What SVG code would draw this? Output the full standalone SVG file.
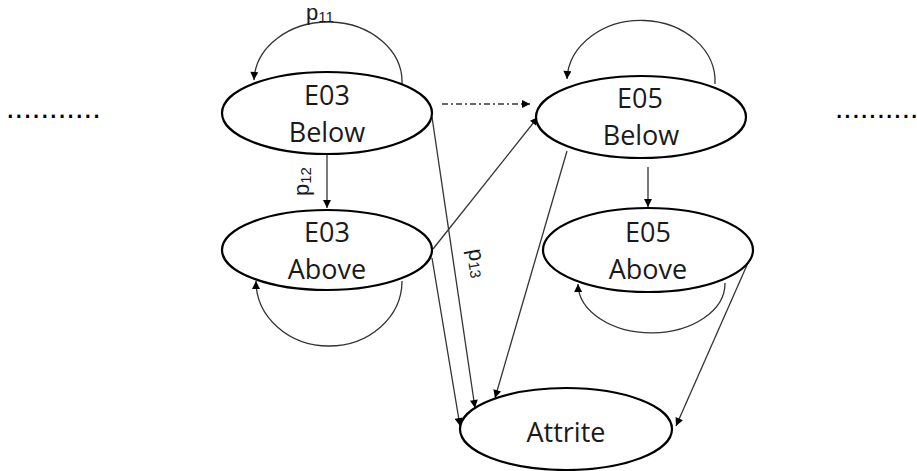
<svg xmlns="http://www.w3.org/2000/svg" width="917" height="471" viewBox="0 0 917 471">
  <style>
    .state { fill: #ffffff; stroke: #000000; stroke-width: 2.2; }
    .lbl { font-family: "Open Sans", "Liberation Sans", sans-serif; font-size: 27px; fill: #1a1a1a; text-anchor: middle; }
    .edge { fill: none; stroke: #333333; stroke-width: 1.3; }
    .arr { marker-end: url(#head); }
    .dashdot { stroke-dasharray: 6 3 2 3; }
    .p { font-family: "Liberation Sans", "Open Sans", sans-serif; fill: #1a1a1a; font-size: 22px; }
    .sub { font-size: 15px; }
    .dots { font-family: "Liberation Sans", sans-serif; fill: #000000; }
  </style>
  <defs>
    <marker id="head" viewBox="0 0 10 10" refX="10" refY="5" markerWidth="9" markerHeight="8" markerUnits="userSpaceOnUse" orient="auto">
      <path d="M0,0 L10,5 L0,10 z" fill="#000000"/>
    </marker>
  </defs>

  <rect width="917" height="471" fill="#ffffff"/>

  <!-- continuation dots on either side -->
  <text class="dots" x="6" y="118" font-size="31">...........</text>
  <text class="dots" x="835" y="118" font-size="30">..........</text>

  <!-- connectors -->
  <g id="connectors">
    <!-- self loops -->
    <path class="edge arr" d="M402,84 A74,60 0 0 0 254,80"/>
    <path class="edge arr" d="M402,281 A73,65 0 0 1 256,281"/>
    <path class="edge arr" d="M715,84 A74,61 0 0 0 567,79"/>
    <path class="edge arr" d="M725,283 A73,49 0 0 1 578,284"/>
    <!-- E03 Below -> E03 Above -->
    <line class="edge arr" x1="327" y1="155" x2="327" y2="208"/>
    <!-- E03 Below -> E05 Below (dash-dot) -->
    <line class="edge arr dashdot" x1="442" y1="104" x2="530" y2="104"/>
    <!-- E03 Above -> E05 Below -->
    <line class="edge arr" x1="433" y1="249" x2="538" y2="117"/>
    <!-- E03 Below -> Attrite -->
    <line class="edge arr" x1="432" y1="117" x2="475" y2="408"/>
    <!-- E03 Above -> Attrite -->
    <line class="edge arr" x1="432" y1="258" x2="460" y2="426"/>
    <!-- E05 Below -> Attrite -->
    <line class="edge arr" x1="567" y1="151" x2="495" y2="398"/>
    <!-- E05 Below -> E05 Above -->
    <line class="edge arr" x1="648" y1="167" x2="648" y2="207"/>
    <!-- E05 Above -> Attrite -->
    <line class="edge arr" x1="751" y1="256" x2="676" y2="426"/>

    <!-- transition probability labels -->
    <text class="p" x="306" y="20">p<tspan class="sub" dy="2">11</tspan></text>
    <text class="p" transform="translate(309,196) rotate(-90)">p<tspan class="sub" dy="2">12</tspan></text>
    <text class="p" transform="translate(468,250) rotate(80)">p<tspan class="sub" dy="2">13</tspan></text>
  </g>

  <g id="e03-below">
    <ellipse class="state" cx="327" cy="113" rx="105" ry="41"/>
    <text class="lbl" x="327" y="105">E03</text>
    <text class="lbl" x="327" y="142">Below</text>
  </g>

  <g id="e03-above">
    <ellipse class="state" cx="327" cy="250" rx="105" ry="40"/>
    <text class="lbl" x="327" y="242">E03</text>
    <text class="lbl" x="327" y="279">Above</text>
  </g>

  <g id="e05-below">
    <ellipse class="state" cx="641" cy="117" rx="105" ry="41"/>
    <text class="lbl" x="640" y="108">E05</text>
    <text class="lbl" x="641" y="145">Below</text>
  </g>

  <g id="e05-above">
    <ellipse class="state" cx="648" cy="250" rx="105" ry="42"/>
    <text class="lbl" x="648" y="242">E05</text>
    <text class="lbl" x="648" y="279">Above</text>
  </g>

  <g id="attrite">
    <ellipse class="state" cx="566" cy="429" rx="106" ry="41"/>
    <text class="lbl" x="566" y="442">Attrite</text>
  </g>
</svg>
